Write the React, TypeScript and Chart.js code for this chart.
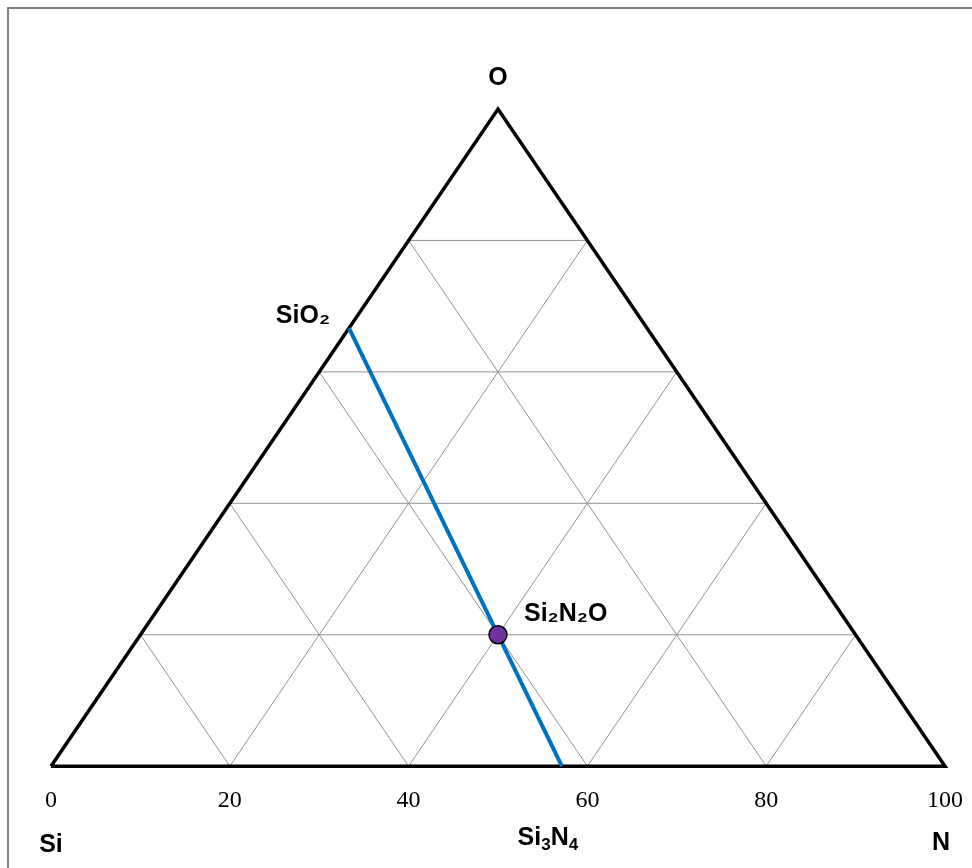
import React, { useEffect, useRef } from "react";
import { Chart, registerables } from "chart.js";

Chart.register(...registerables);

// ---- data ----
const H = 86.6; // height of the ternary triangle in y units
const xTickValues = [0, 20, 40, 60, 80, 100];
const gridLevels = [20, 40, 60, 80];

// compositions (fractions) of Si, N, O
const compoundNames = ["SiO₂", "Si₃N₄", "Si₂N₂O"];
const compoundSi = [1 / 3, 3 / 7, 2 / 5];
const compoundN = [0, 4 / 7, 2 / 5];
const compoundO = [2 / 3, 0, 1 / 5];

const vertexNames = ["Si", "N", "O"];
const vertexN = [0, 1, 0];
const vertexO = [0, 0, 1];

const toXY = (n: number, o: number) => ({ x: 100 * (n + o / 2), y: H * o });

const FONT_SANS = "'Liberation Sans', Arial, sans-serif";
const FONT_SERIF = "'Liberation Serif', 'Times New Roman', serif";

export default function App() {
  const ref = useRef<HTMLCanvasElement>(null);

  useEffect(() => {
    if (!ref.current) return;
    const verts = vertexNames.map((_, i) => toXY(vertexN[i], vertexO[i]));
    const comps = compoundNames.map((_, i) => toXY(compoundN[i], compoundO[i]));

    const gridDatasets: any[] = [];
    gridLevels.forEach((k) => {
      // constant O
      gridDatasets.push([toXY((100 - k) / 100, k / 100), toXY(0, k / 100)]);
      // constant N
      gridDatasets.push([toXY(k / 100, 0), toXY(k / 100, (100 - k) / 100)]);
      // constant Si
      gridDatasets.push([toXY(k / 100, 0), toXY(0, k / 100)]);
    });

    const datasets: any[] = [
      {
        data: [comps[2]],
        showLine: false,
        pointRadius: 9,
        pointBackgroundColor: "#7030A0",
        pointBorderColor: "#000000",
        pointBorderWidth: 1.5,
        order: 0,
        clip: false,
      },
      {
        data: [comps[0], comps[1]],
        showLine: true,
        borderColor: "#0070C0",
        borderWidth: 4,
        pointRadius: 0,
        order: 1,
        clip: false,
      },
      {
        data: [verts[0], verts[1], verts[2], verts[0]],
        showLine: true,
        borderColor: "#000000",
        borderWidth: 3.5,
        pointRadius: 0,
        borderJoinStyle: "miter",
        order: 2,
        clip: false,
      },
      ...gridDatasets.map((d) => ({
        data: d,
        showLine: true,
        borderColor: "#939393",
        borderWidth: 1,
        pointRadius: 0,
        order: 3,
        clip: false,
      })),
    ];

    type Seg = { t: string; sub?: boolean };
    const labels: { segs: Seg[]; at: { x: number; y: number }; dx: number; dy: number; align: "left" | "center" | "right" }[] = [
      { segs: [{ t: "O" }], at: verts[2], dx: 0, dy: -31, align: "center" },
      { segs: [{ t: compoundNames[0] }], at: comps[0], dx: -19, dy: -12, align: "right" },
      { segs: [{ t: compoundNames[2] }], at: comps[2], dx: 26, dy: -21, align: "left" },
      { segs: [{ t: "Si" }], at: verts[0], dx: 0, dy: 79, align: "center" },
      { segs: [{ t: "Si" }, { t: "3", sub: true }, { t: "N" }, { t: "4", sub: true }], at: comps[1], dx: -14, dy: 72, align: "center" },
      { segs: [{ t: "N" }], at: verts[1], dx: -4, dy: 77, align: "center" },
    ];

    const labelPlugin = {
      id: "ternaryLabels",
      afterDatasetsDraw(chart: any) {
        const { ctx } = chart;
        const xs = chart.scales.x;
        const ys = chart.scales.y;
        ctx.save();
        ctx.fillStyle = "#000";
        ctx.textBaseline = "middle";
        ctx.textAlign = "left";
        labels.forEach((l) => {
          const main = `bold 25px ${FONT_SANS}`;
          const sub = `bold 17px ${FONT_SANS}`;
          let w = 0;
          l.segs.forEach((s) => {
            ctx.font = s.sub ? sub : main;
            w += ctx.measureText(s.t).width;
          });
          const px = xs.getPixelForValue(l.at.x) + l.dx;
          const py = ys.getPixelForValue(l.at.y) + l.dy;
          let cx = l.align === "left" ? px : l.align === "right" ? px - w : px - w / 2;
          l.segs.forEach((s) => {
            ctx.font = s.sub ? sub : main;
            ctx.fillText(s.t, cx, s.sub ? py + 7 : py);
            cx += ctx.measureText(s.t).width;
          });
        });
        ctx.restore();
      },
    };

    const chart = new Chart(ref.current, {
      type: "scatter",
      data: { datasets },
      options: {
        animation: false,
        responsive: false,
        events: [],
        layout: { padding: { left: 51, right: 27, top: 109, bottom: 41 } },
        plugins: { legend: { display: false }, tooltip: { enabled: false } },
        scales: {
          x: {
            type: "linear",
            min: 0,
            max: 100,
            afterBuildTicks: (scale: any) => {
              scale.ticks = xTickValues.map((v) => ({ value: v }));
            },
            afterFit: (scale: any) => {
              scale.paddingLeft = 0;
              scale.paddingRight = 0;
            },
            grid: { display: false },
            border: { display: false },
            ticks: {
              padding: 12,
              color: "#000",
              font: { family: FONT_SERIF, size: 24 },
            },
          },
          y: {
            type: "linear",
            min: 0,
            max: H,
            display: false,
          },
        },
      },
      plugins: [labelPlugin],
    });
    return () => chart.destroy();
  }, []);

  return (
    <div
      style={{
        position: "fixed",
        left: 0,
        top: 0,
        width: 972,
        height: 868,
        overflow: "hidden",
        background: "#fff",
      }}
    >
      <div
        style={{
          position: "absolute",
          left: 7,
          top: 7,
          width: 990,
          height: 900,
          border: "2px solid #808080",
          boxSizing: "border-box",
        }}
      />
      <canvas ref={ref} width={972} height={868} style={{ position: "absolute", left: 0, top: 0, width: 972, height: 868 }} />
    </div>
  );
}
